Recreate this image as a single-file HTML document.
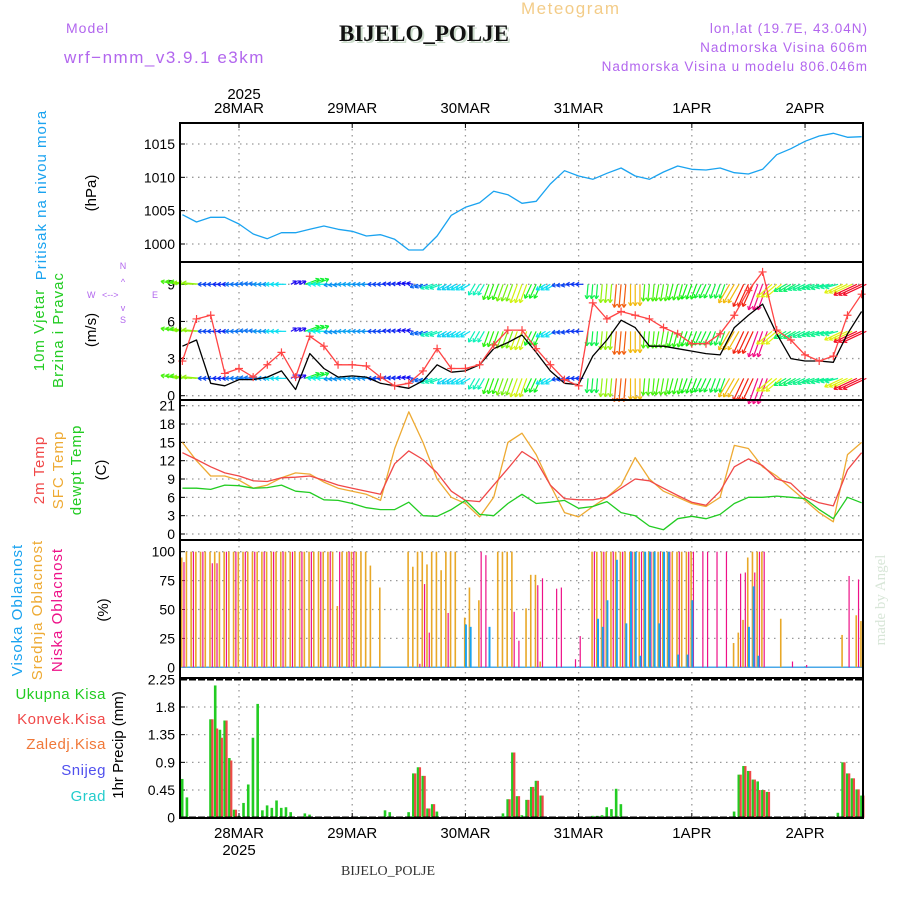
<!DOCTYPE html>
<html><head><meta charset="utf-8"><style>
html,body{margin:0;padding:0;background:#fff;}
svg{display:block;font-family:"Liberation Sans",sans-serif;}
</style></head><body>
<svg id="chart" width="900" height="900" viewBox="0 0 900 900">
<g>
<text x="66" y="33" font-size="14" fill="#b266ee" letter-spacing="1">Model</text>
<text x="64" y="63" font-size="17" fill="#b266ee" letter-spacing="1.5">wrf−nmm_v3.9.1 e3km</text>
<text x="521" y="14" font-size="17" fill="#f3cc88" letter-spacing="1.5">Meteogram</text>
<text x="426" y="43" font-size="23" font-weight="bold" fill="#ccdccc" text-anchor="middle" font-family="Liberation Serif, serif">BIJELO_POLJE</text>
<text x="424" y="41" font-size="23" font-weight="bold" fill="#111" text-anchor="middle" font-family="Liberation Serif, serif">BIJELO_POLJE</text>
<text x="868" y="33" font-size="13.5" fill="#b266ee" text-anchor="end" letter-spacing="1">lon,lat (19.7E, 43.04N)</text>
<text x="868" y="52" font-size="13.5" fill="#b266ee" text-anchor="end" letter-spacing="1">Nadmorska Visina 606m</text>
<text x="868" y="71" font-size="13.5" fill="#b266ee" text-anchor="end" letter-spacing="1">Nadmorska Visina u modelu 806.046m</text>
</g>
<g font-size="15">
<text transform="translate(46,195) rotate(-90)" text-anchor="middle" fill="#1aa3f0" letter-spacing="1">Pritisak na nivou mora</text>
<text transform="translate(96,193) rotate(-90)" text-anchor="middle" fill="#000">(hPa)</text>
<text transform="translate(44,330) rotate(-90)" text-anchor="middle" fill="#22cc22" letter-spacing="1">10m Vjetar</text>
<text transform="translate(63,330) rotate(-90)" text-anchor="middle" fill="#22cc22" letter-spacing="1">Brzina i Pravac</text>
<text transform="translate(96,330) rotate(-90)" text-anchor="middle" fill="#000">(m/s)</text>
<g fill="#b266ee" font-size="9">
<text x="123" y="269" text-anchor="middle">N</text><text x="123" y="285" text-anchor="middle">^</text>
<text x="87" y="298">W</text><text x="102" y="298">&lt;--&gt;</text><text x="152" y="298">E</text>
<text x="123" y="311" text-anchor="middle">v</text><text x="123" y="323" text-anchor="middle">S</text>
</g>
<text transform="translate(44,470) rotate(-90)" text-anchor="middle" fill="#f04848" letter-spacing="1">2m Temp</text>
<text transform="translate(63,470) rotate(-90)" text-anchor="middle" fill="#eeaa33" letter-spacing="1">SFC Temp</text>
<text transform="translate(81,470) rotate(-90)" text-anchor="middle" fill="#22cc22" letter-spacing="1">dewpt Temp</text>
<text transform="translate(106,470) rotate(-90)" text-anchor="middle" fill="#000">(C)</text>
<text transform="translate(22,610) rotate(-90)" text-anchor="middle" fill="#1aa3f0" letter-spacing="1">Visoka Oblacnost</text>
<text transform="translate(42,610) rotate(-90)" text-anchor="middle" fill="#eeaa33" letter-spacing="1">Srednja Oblacnost</text>
<text transform="translate(62,610) rotate(-90)" text-anchor="middle" fill="#ee1188" letter-spacing="1">Niska Oblacnost</text>
<text transform="translate(108,610) rotate(-90)" text-anchor="middle" fill="#000">(%)</text>
<text transform="translate(885,600) rotate(-90)" text-anchor="middle" fill="#d8e6d8" font-family="Liberation Serif, serif">made by Angel</text>
<text x="106" y="699" text-anchor="end" fill="#22cc22" letter-spacing="0.5">Ukupna Kisa</text>
<text x="106" y="724" text-anchor="end" fill="#f04848" letter-spacing="0.5">Konvek.Kisa</text>
<text x="106" y="749" text-anchor="end" fill="#f07838" letter-spacing="0.5">Zaledj.Kisa</text>
<text x="106" y="775" text-anchor="end" fill="#5050ee" letter-spacing="0.5">Snijeg</text>
<text x="106" y="801" text-anchor="end" fill="#22cccc" letter-spacing="0.5">Grad</text>
<text transform="translate(123,745) rotate(-90)" text-anchor="middle" fill="#000">1hr Precip (mm)</text>
<text x="244" y="99" text-anchor="middle">2025</text>
<text x="239" y="855" text-anchor="middle">2025</text>
<text x="388" y="875" text-anchor="middle" font-size="14" fill="#333" font-family="Liberation Serif, serif">BIJELO_POLJE</text>
</g>
<g id="plots"></g>
</svg>
<script>
// time axis: hours relative to 28MAR 00Z
const dayLabels = ["28MAR","29MAR","30MAR","31MAR","1APR","2APR"];
const hours3 = [-12,-9,-6,-3,0,3,6,9,12,15,18,21,24,27,30,33,36,39,42,45,48,51,54,57,60,63,66,69,72,75,78,81,84,87,90,93,96,99,102,105,108,111,114,117,120,123,126,129,132];
const pressure = [1004.4,1003.3,1004,1004,1003,1001.5,1000.8,1001.7,1001.7,1002.2,1002.7,1002.2,1001.9,1001.2,1001.4,1000.7,999.1,999.1,1001.2,1004.3,1005.5,1006.2,1007.9,1007.4,1006.1,1006.4,1009,1011,1010.2,1009.7,1010.6,1011.4,1010.2,1009.7,1010.8,1011.7,1011.2,1011.1,1011.4,1010.7,1010.5,1011.2,1013.4,1014.3,1015.4,1016.2,1016.6,1016,1016.1];
const windSpeed = [4.0,4.5,1.0,0.8,1.3,1.3,1.5,2.0,0.5,3.4,2.2,1.5,1.6,1.5,1.0,0.8,0.6,1.2,2.5,1.9,2.0,2.5,3.8,4.3,4.9,3.5,2.0,1.0,0.9,3.2,4.5,6.1,5.5,4.0,4.0,3.8,3.6,3.4,3.3,5.5,6.5,7.4,5.0,3.0,2.8,2.8,2.7,5.0,6.8];
const windGust = [2.8,6.2,6.5,1.8,2.2,1.5,2.5,3.5,1.5,4.8,4.0,2.5,2.5,2.4,1.5,0.8,1.0,2.0,3.8,2.2,2.2,2.5,4.1,5.3,5.3,3.8,2.5,1.3,0.8,7.5,6.2,6.8,6.5,6.2,5.5,5.0,4.2,4.2,5.0,6.5,8.5,10,5.3,4.5,3.3,2.8,3.2,6.5,8.2];
const windDir = [190,185,180,180,180,185,180,180,330,340,180,175,180,180,180,185,190,160,160,150,150,120,110,110,110,115,150,170,180,95,95,95,90,95,100,105,110,115,110,120,115,110,140,150,155,160,165,155,155];
const windRows = [9, 5.2, 1.4];
const temp2m = [13.3,12.2,11,10,9.5,8.7,8.6,9.2,9.3,9.5,8.8,8,7.5,7,6.5,11.5,13.6,12.2,10,7,5.5,5.3,8,10.7,13.5,12,8,5.8,5.6,5.6,6,7.5,9,8.7,7.5,6.3,5.2,4.7,7,11,12.3,11.2,9,8.3,6.1,5.1,4.6,10.5,13.3];
const tempSfc = [15,12,9.5,9.5,8.8,7.5,8,9.2,10,9.8,8.5,7.5,7,6.5,5.5,14,20,15,9,6,5,2.8,6,15,16.5,13,8,3.5,2.8,4.5,6,8,12.5,9,7,6,5,4.5,6,14.5,14,11,9.5,7.5,5.5,3.5,2,13,15];
const dewpt = [7.5,7.5,7.3,8,7.9,7.5,7.6,8,7,6.8,5.6,5.5,5,4.3,4,4,5.2,3,2.9,4,5.5,3.2,3,5,6.5,5,5.2,5.5,4.2,4.5,5.3,3.5,3,1.3,0.7,2.5,2.9,2.5,3.2,5,6,6,6.2,6,5.8,4,2.5,6,5.1];
const cloudMid = [95,100,100,100,100,100,100,100,100,100,100,100,
100,100,100,100,100,100,100,100,100,100,100,100,
100,100,100,100,100,100,100,100,100,53,100,100,
100,100,100,100,88,0,69,0,0,0,0,0,
100,87,100,100,89,100,100,84,100,100,100,0,
43,69,0,58,0,0,0,100,100,100,100,0,
0,51,80,80,5,0,0,0,0,0,0,0,
0,0,0,100,100,100,100,100,100,100,100,100,
100,100,100,100,100,100,100,100,100,100,100,100,
100,0,0,0,0,0,0,0,0,21,30,41,
95,100,100,100,0,0,0,42,0,0,0,0,
0,0,0,0,0,0,0,0,28,0,0,45,
40];
const cloudLow = [91,0,100,0,100,0,90,90,0,100,0,100,
0,100,0,100,0,100,0,100,0,100,0,100,
0,100,0,100,0,100,0,100,0,100,0,100,
100,0,0,0,0,0,0,0,0,0,0,0,
0,0,3,72,30,0,0,0,47,0,0,0,
0,0,0,100,97,0,0,0,0,0,48,23,
0,0,0,71,77,0,0,68,69,0,0,7,
27,0,0,100,0,100,0,100,0,100,0,100,
0,100,0,100,0,100,0,100,0,100,0,100,
100,0,100,100,0,100,0,100,0,0,81,82,
0,82,100,100,0,0,0,0,0,5,0,0,
2,0,0,0,0,0,0,0,0,79,0,76,
0];
const highHours = [48,49,53,76,77,78,80,82,83,84,85,86,87,88,89,90,91,93,95,96,108,109,110];
const highVals = [37,35,35,42,35,58,93,38,100,100,10,100,100,100,38,100,100,11,11,58,35,70,10];
const precipHours = [-12,-11,-6,-5,-4,-3,-2,-1,0,1,2,3,4,5,6,7,8,9,10,11,14,15,25,26,31,32,36,37,38,39,40,41,42,56,57,58,59,60,61,62,63,64,75,76,77,78,79,80,81,105,106,107,108,109,110,111,112,127,128,129,130,131,132];
const precipTotal = [0.63,0.33,1.6,2.15,1.43,1.58,0.97,0.13,0.03,0.24,0.54,1.3,1.85,0.12,0.2,0.16,0.28,0.16,0.17,0.09,0.07,0.05,0.02,0.02,0.12,0.09,0.09,0.72,0.82,0.68,0.15,0.22,0.1,0.07,0.3,1.06,0.35,0.04,0.29,0.5,0.6,0.36,0.03,0.03,0.04,0.17,0.14,0.47,0.22,0.1,0.7,0.84,0.76,0.62,0.59,0.45,0.42,0.08,0.9,0.72,0.64,0.46,0.36];
const precipConv = [0,0,1.6,1.45,1.3,1.58,0.93,0.13,0,0,0,0,0,0,0,0,0,0,0,0,0,0,0,0,0,0,0,0.72,0.82,0.68,0.15,0.22,0,0,0.3,1.06,0.35,0,0.29,0.5,0.6,0.36,0,0,0,0,0,0,0,0,0.7,0.84,0.76,0.62,0.45,0.45,0.42,0,0.9,0.72,0.64,0.46,0.36];
const pressureTicks = [1000,1005,1010,1015];
const windTicks = [0,3,6,9];
const tempTicks = [0,3,6,9,12,15,18,21];
const cloudTicks = [0,25,50,75,100];
const precipTicks = [0,0.45,0.9,1.35,1.8,2.25];

const NS = "http://www.w3.org/2000/svg";
const root = document.getElementById("plots");
const X0 = 180, X1 = 863;
const xS = h => 239 + h * 4.717;
function lin(d0, d1, r0, r1) { return v => r0 + (v - d0) * (r1 - r0) / (d1 - d0); }
const yP = lin(1000, 1015, 244, 144);
const yW = lin(0, 9, 395.7, 284.3);
const yT = lin(0, 21, 534, 405.7);
const yC = lin(0, 100, 667.3, 551.7);
const yR = lin(0, 2.25, 817.7, 679.3);
function mk(tag, attrs, parent) {
  const e = document.createElementNS(NS, tag);
  for (const k in attrs) e.setAttribute(k, attrs[k]);
  (parent || root).appendChild(e);
  return e;
}
const panels = [
  {name:"pressure", top:123, bot:262, ticks:pressureTicks, y:yP},
  {name:"wind", top:262, bot:400, ticks:windTicks, y:yW},
  {name:"temperature", top:400, bot:540, ticks:tempTicks, y:yT},
  {name:"cloud", top:540, bot:678, ticks:cloudTicks, y:yC},
  {name:"precip", top:678, bot:818, ticks:precipTicks, y:yR}
];
panels.forEach(p => {
  const g = mk("g", {});
  
  
  dayLabels.forEach((d, i) => {
    const x = xS(i * 24);
    const l = mk("line", {x1:x, x2:x, y1:p.top, y2:p.bot, stroke:"#999", "stroke-dasharray":"1.5,4.5", "stroke-width":1.3}, g);
    
    
  });
  p.ticks.forEach(t => {
    const y = p.y(t);
    const l = mk("line", {x1:X0, x2:X1, y1:y, y2:y, stroke:"#999", "stroke-dasharray":"1.5,4.5", "stroke-width":1.3}, g);
    
    
    const tk = mk("line", {x1:X0, x2:X0 + 5, y1:y, y2:y, stroke:"#000"}, g);
    
    
    const tx = mk("text", {x:X0 - 5, y:y + 5, "text-anchor":"end", "font-size":14, fill:"#000"}, g);
    tx.textContent = String(t);
    
    
  });
});
dayLabels.forEach((d, i) => {
  const x = xS(i * 24);
  const t1 = mk("text", {x:x, y:113, "text-anchor":"middle", "font-size":15}, root);
  t1.textContent = d;
  
  
  const t2 = mk("text", {x:x, y:838, "text-anchor":"middle", "font-size":15}, root);
  t2.textContent = d;
  
  
});
function poly(xs, ys, color, name, w) {
  const pts = xs.map((h, i) => xS(h).toFixed(1) + "," + ys[i].toFixed(1)).join(" ");
  const e = mk("polyline", {points:pts, fill:"none", stroke:color, "stroke-width":w || 1.3, "stroke-linejoin":"round"});
  
  
  return e;
}
poly(hours3, pressure.map(yP), "#1aa3f0", "pressure-line");
function windColor(s) {
  let hue = 265 - s * 40;
  if (hue < 0) hue += 360;
  return "hsl(" + hue + ",90%,50%)";
}
windRows.forEach((rv) => {
  const by = yW(rv);
  hours3.forEach((h, i) => {
    const s = windSpeed[i];
    const L = 5 + s * 3;
    const a = windDir[i] * Math.PI / 180;
    const col = windColor(s);
    const ga = mk("g", {stroke:col, "stroke-width":1.2, fill:"none"});
    
    
    [-1, 0, 1].forEach(k => {
      const x0 = xS(h + k), x1 = x0 + L * Math.cos(a), y1 = by + L * Math.sin(a);
      mk("line", {x1:x0, y1:by, x2:x1, y2:y1}, ga);
      [a + 2.6, a - 2.6].forEach(b => {
        mk("line", {x1:x1, y1:y1, x2:x1 + 4 * Math.cos(b), y2:y1 + 4 * Math.sin(b)}, ga);
      });
    });
  });
});
poly(hours3, windSpeed.map(yW), "#000", "wind-speed-line");
poly(hours3, windGust.map(yW), "#ff4444", "wind-gust-line");
hours3.forEach((h, i) => {
  const x = xS(h), y = yW(windGust[i]);
  const c = mk("path", {d:"M" + (x - 4) + "," + y + "h8M" + x + "," + (y - 4) + "v8", stroke:"#ff4444", "stroke-width":1.2});
  
  
});
poly(hours3, tempSfc.map(yT), "#eeaa33", "sfc-temp-line");
poly(hours3, temp2m.map(yT), "#f04848", "temp-2m-line");
poly(hours3, dewpt.map(yT), "#22cc22", "dewpoint-line");
const baseC = mk("line", {x1:X0, x2:X1, y1:yC(0), y2:yC(0), stroke:"#4aa8e8", "stroke-width":1.5});


cloudMid.forEach((v, i) => {
  if (!v) return;
  const h = i - 12, x = xS(h) - 1.5;
  const b = mk("rect", {x:x, y:yC(v), width:1.6, height:yC(0) - yC(v), fill:"#e8a828"});
  
  
});
cloudLow.forEach((v, i) => {
  if (!v) return;
  const h = i - 12, x = xS(h) + 1;
  const b = mk("rect", {x:x, y:yC(v), width:1.2, height:yC(0) - yC(v), fill:"#ee1188"});
  
  
});
highHours.forEach((h, i) => {
  const v = highVals[i];
  const b = mk("rect", {x:xS(h) - 0.5, y:yC(v), width:2, height:yC(0) - yC(v), fill:"#1aa3f0"});
  
  
});
precipHours.forEach((h, i) => {
  const t = precipTotal[i], c = precipConv[i];
  const x = xS(h);
  const b = mk("rect", {x:x - 1.5, y:yR(t), width:2.6, height:yR(0) - yR(t), fill:"#22cc22"});
  
  
  if (c > 0) {
    const r = mk("rect", {x:x + 0.6, y:yR(c), width:2.2, height:yR(0) - yR(c), fill:"#f04848"});
    
    
  }
});
panels.forEach((p) => {
  const f = mk("rect", {x:X0, y:p.top, width:X1 - X0, height:p.bot - p.top, fill:"none", stroke:"#000", "stroke-width":2});
  
  
});
[yR(2.25), yR(0)].forEach(y => {
  const d = mk("line", {x1:X0, x2:X1, y1:y, y2:y, stroke:"#000", "stroke-width":2.5, "stroke-dasharray":"7,2"});
  
  
});
dayLabels.forEach((d, i) => {
  const x = xS(i * 24);
  [123, 818].forEach(y => {
    const t = mk("line", {x1:x, x2:x, y1:y, y2:y === 123 ? y + 5 : y - 5, stroke:"#000"});
    
    
  });
});
</script>
</body></html>
